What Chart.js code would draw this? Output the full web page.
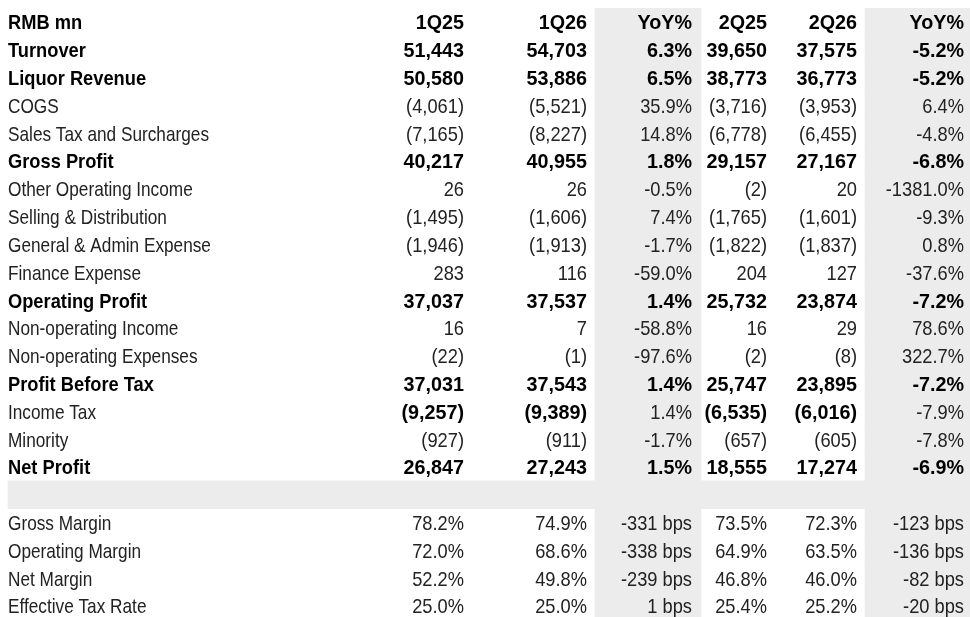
<!DOCTYPE html>
<html>
<head>
<meta charset="utf-8">
<script src="https://cdn.jsdelivr.net/npm/chart.js@4.4.1/dist/chart.umd.min.js"></script>
<style>
  html, body { margin: 0; padding: 0; background: #fff; }
  #wrap { width: 970px; height: 617px; }
</style>
</head>
<body>
<div id="wrap"><canvas id="table" width="970" height="617"></canvas></div>
<script>
// column headers
const unitLabel = 'RMB mn';
const headers = ['1Q25', '1Q26', 'YoY%', '2Q25', '2Q26', 'YoY%'];

// P&L lines (RMB mn, negatives are costs)
const lineItems = [
  'Turnover', 'Liquor Revenue', 'COGS', 'Sales Tax and Surcharges', 'Gross Profit',
  'Other Operating Income', 'Selling & Distribution', 'General & Admin Expense',
  'Finance Expense', 'Operating Profit', 'Non-operating Income', 'Non-operating Expenses',
  'Profit Before Tax', 'Income Tax', 'Minority', 'Net Profit'
];
const q1_25 = [51443, 50580, -4061, -7165, 40217, 26, -1495, -1946, 283, 37037, 16, -22, 37031, -9257, -927, 26847];
const q1_26 = [54703, 53886, -5521, -8227, 40955, 26, -1606, -1913, 116, 37537, 7, -1, 37543, -9389, -911, 27243];
const yoy1 = [6.3, 6.5, 35.9, 14.8, 1.8, -0.5, 7.4, -1.7, -59.0, 1.4, -58.8, -97.6, 1.4, 1.4, -1.7, 1.5];
const q2_25 = [39650, 38773, -3716, -6778, 29157, -2, -1765, -1822, 204, 25732, 16, -2, 25747, -6535, -657, 18555];
const q2_26 = [37575, 36773, -3953, -6455, 27167, 20, -1601, -1837, 127, 23874, 29, -8, 23895, -6016, -605, 17274];
const yoy2 = [-5.2, -5.2, 6.4, -4.8, -6.8, -1381.0, -9.3, 0.8, -37.6, -7.2, 78.6, 322.7, -7.2, -7.9, -7.8, -6.9];

// ratios (%), change in bps
const ratioItems = ['Gross Margin', 'Operating Margin', 'Net Margin', 'Effective Tax Rate'];
const ratio1_25 = [78.2, 72.0, 52.2, 25.0];
const ratio1_26 = [74.9, 68.6, 49.8, 25.0];
const bps1 = [-331, -338, -239, 1];
const ratio2_25 = [73.5, 64.9, 46.8, 25.4];
const ratio2_26 = [72.3, 63.5, 46.0, 25.2];
const bps2 = [-123, -136, -82, -20];

const boldLines = ['Turnover', 'Liquor Revenue', 'Gross Profit', 'Operating Profit', 'Profit Before Tax', 'Net Profit'];
const boldValueOnly = ['Income Tax'];

const fmtMn = v => v < 0 ? '(' + Math.abs(v).toLocaleString('en-US') + ')' : v.toLocaleString('en-US');
const fmtPct = v => v.toFixed(1) + '%';
const fmtBps = v => v + ' bps';

// build table rows
const rows = [];
rows.push({ label: unitLabel, cells: headers, bold: [true, true, true, true, true, true, true] });
lineItems.forEach((name, i) => {
  const b = boldLines.includes(name);
  const bv = b || boldValueOnly.includes(name);
  rows.push({
    label: name,
    cells: [fmtMn(q1_25[i]), fmtMn(q1_26[i]), fmtPct(yoy1[i]), fmtMn(q2_25[i]), fmtMn(q2_26[i]), fmtPct(yoy2[i])],
    bold: [b, bv, bv, b, bv, bv, b]
  });
});
const spacerRow = rows.length;
rows.push({ label: '', cells: [], bold: [] });
ratioItems.forEach((name, i) => {
  rows.push({
    label: name,
    cells: [fmtPct(ratio1_25[i]), fmtPct(ratio1_26[i]), fmtBps(bps1[i]), fmtPct(ratio2_25[i]), fmtPct(ratio2_26[i]), fmtBps(bps2[i])],
    bold: [false, false, false, false, false, false, false]
  });
});

// layout (x in canvas px)
const LABEL_X = 8;
const COL_RIGHT = [464, 587, 692, 767, 857, 964];
const SHADE_COLS = [[595, 701], [865, 970]];
const FONT_SIZE = 21;
const FONT_FAMILY = '"Liberation Sans", Arial, sans-serif';
const SHADE = '#ececec';
// narrow look: horizontal squeeze (label col / value cols, regular / bold)
const SQUEEZE = { label: [0.82, 0.87], value: [0.87, 0.94] };

const bandData = cols => rows.map((r, i) => i).filter(i => i !== spacerRow).map(i => ({ x: cols, y: i }));

function drawText(ctx, txt, px, py, bold, squeeze) {
  ctx.save();
  ctx.font = (bold ? 'bold ' : '') + FONT_SIZE + 'px ' + FONT_FAMILY;
  ctx.fillStyle = bold ? '#000' : '#222';
  ctx.translate(px, py);
  ctx.scale(squeeze, 1);
  ctx.fillText(txt, 0, 0);
  ctx.restore();
}

const tableText = {
  id: 'tableText',
  afterDatasetsDraw(chart) {
    const { ctx, scales: { x, y } } = chart;
    ctx.save();
    ctx.textBaseline = 'alphabetic';
    rows.forEach((row, i) => {
      const base = y.getPixelForValue(i) + FONT_SIZE * 0.358;
      ctx.textAlign = 'left';
      drawText(ctx, row.label, x.getPixelForValue(LABEL_X), base, row.bold[0], SQUEEZE.label[row.bold[0] ? 1 : 0]);
      ctx.textAlign = 'right';
      row.cells.forEach((txt, c) => {
        const b = row.bold[c + 1];
        drawText(ctx, txt, x.getPixelForValue(COL_RIGHT[c]), base, b, SQUEEZE.value[b ? 1 : 0]);
      });
    });
    ctx.restore();
  }
};

new Chart(document.getElementById('table'), {
  type: 'bar',
  data: {
    datasets: [
      { data: bandData(SHADE_COLS[0]), backgroundColor: SHADE },
      { data: bandData(SHADE_COLS[1]), backgroundColor: SHADE },
      { data: [{ x: [LABEL_X, 970], y: spacerRow }], backgroundColor: SHADE }
    ]
  },
  options: {
    indexAxis: 'y',
    responsive: false,
    animation: false,
    layout: { padding: { top: 8, left: 0, right: 0, bottom: 0 } },
    datasets: { bar: { grouped: false, categoryPercentage: 1, barPercentage: 1, borderWidth: 0 } },
    scales: {
      x: { type: 'linear', display: false, offset: false, min: 0, max: 970 },
      y: { type: 'linear', display: false, offset: false, reverse: true, min: -0.5, max: 21.4 }
    },
    plugins: { legend: { display: false }, tooltip: { enabled: false } }
  },
  plugins: [tableText]
});
</script>
</body>
</html>
